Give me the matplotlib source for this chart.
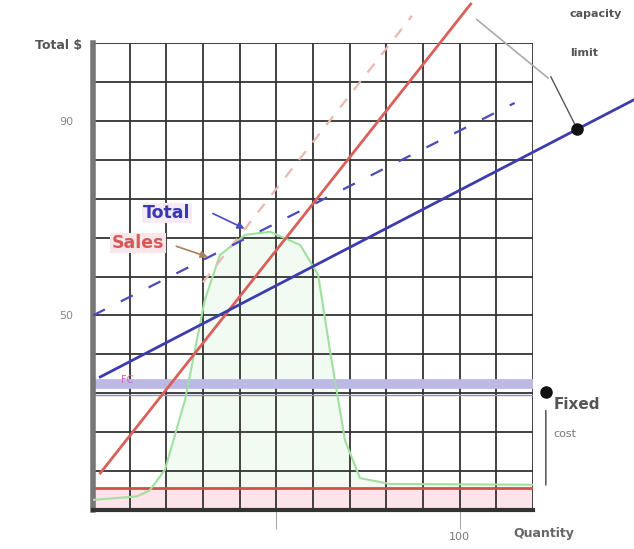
import numpy as np
import matplotlib
matplotlib.use("Agg")
import matplotlib.pyplot as plt

# break-even chart values (quantity vs total $)
revenue_x = [2, 103]
revenue_y = [9.5, 130]
revenue_alt_x = [30, 87]
revenue_alt_y = [58.5, 127]
cost_x = [2, 147.5]
cost_y = [34.2, 105.4]
cost_alt_x = [0, 115]
cost_alt_y = [50, 104.6]
fixed_cost = 32.5
fixed_low = 29.6
floor_cost = 5.7
profit_x = [0, 12, 15.5, 19.6, 25.1, 30.5, 34.6, 41.5, 48.3, 56.5, 61.4, 64.6, 68.7, 72.8, 81, 120]
profit_y = [2.6, 3.5, 5.1, 10.3, 28.3, 54, 65.5, 70.7, 71.5, 68.1, 60.4, 41.1, 18, 8.2, 6.7, 6.5]
capacity_pt = (132, 98)
fixed_pt = (123.5, 30.3)

x_ticks = [50, 100]
x_tick_labels = ["", "100"]
y_ticks = [50, 100]
y_tick_labels = ["50", "90"]

fig = plt.figure(figsize=(6.34, 5.49), dpi=100)
ax = fig.add_axes([0.1467, 0.0710, 0.694, 0.8507])
ax.set_xlim(0, 120)
ax.set_ylim(0, 120)

# grid
for v in np.arange(10, 121, 10):
    ax.axvline(v, color="#333333", lw=1.3, zorder=1)
    ax.axhline(v, color="#333333", lw=1.3, zorder=1)

# shaded bands
ax.axhspan(0, floor_cost, color="#fde3ea", zorder=0)
py = np.array(profit_y)
ax.fill_between(profit_x, floor_cost, py, where=py > floor_cost, color="#f1fbf1", zorder=0)
ax.axhline(floor_cost, color="#d05050", lw=2, zorder=2)
ax.axhline(fixed_cost, color="#bcb9e4", lw=7, zorder=2)
ax.axhline(fixed_low, color="#958cca", lw=1, zorder=2)

# lines
ax.plot(profit_x, profit_y, color="#a0e0a0", lw=1.5, zorder=3)
ax.plot(revenue_x, revenue_y, color="#d9605a", lw=2, zorder=4, clip_on=False)
ax.plot(revenue_alt_x, revenue_alt_y, color="#ebb8b0", lw=1.6, ls=(0, (5, 5)), zorder=4, clip_on=False)
ax.plot(cost_x, cost_y, color="#3c3cae", lw=2, zorder=4, clip_on=False)
ax.plot(cost_alt_x, cost_alt_y, color="#4a4ab8", lw=1.6, ls=(0, (6, 8)), zorder=4, clip_on=False)

# labels on lines
ax.text(20.2, 76.3, "Total", color="#3a3ab0", fontsize=12.5, fontweight="bold",
        ha="center", va="center", zorder=5,
        bbox=dict(facecolor="#f6eaf6", edgecolor="none", pad=1))
ax.annotate("", xy=(42, 72), xytext=(32, 76.5),
            arrowprops=dict(arrowstyle="-|>", color="#4a4ab8", lw=1.2), zorder=5)
ax.text(12.3, 68.6, "Sales", color="#d85858", fontsize=12.5, fontweight="bold",
        ha="center", va="center", zorder=5,
        bbox=dict(facecolor="#f8e6ea", edgecolor="none", pad=1))
ax.annotate("", xy=(32, 64.8), xytext=(22, 68),
            arrowprops=dict(arrowstyle="-|>", color="#a88060", lw=1.2), zorder=5)
ax.text(9.3, 33.4, "FC", color="#d060d0", fontsize=7, ha="center", va="center", zorder=5)

# right side annotations
ax.plot(*fixed_pt, "o", color="#111111", ms=8, clip_on=False, zorder=6)
ax.annotate("", xy=(fixed_pt[0], floor_cost), xytext=(fixed_pt[0], fixed_pt[1] - 4),
            arrowprops=dict(arrowstyle="-", color="#444444", lw=1), annotation_clip=False)
ax.text(125.5, 27, "Fixed", color="#555555", fontsize=11, fontweight="bold",
        ha="left", va="center", clip_on=False)
ax.text(125.5, 19.5, "cost", color="#777777", fontsize=8, ha="left", va="center", clip_on=False)

ax.plot(*capacity_pt, "o", color="#111111", ms=8, clip_on=False, zorder=6)
ax.annotate("", xy=capacity_pt, xytext=(124.5, 112),
            arrowprops=dict(arrowstyle="-", color="#555555", lw=1), annotation_clip=False)
ax.plot([104.7, 124.1], [126, 111], color="#aaaaaa", lw=1.2, clip_on=False)
ax.text(137, 127.5, "capacity", color="#555555", fontsize=8, fontweight="bold",
        ha="center", va="center", clip_on=False)
ax.text(134, 117.5, "limit", color="#555555", fontsize=8, fontweight="bold",
        ha="center", va="center", clip_on=False)

# axes styling
for side in ["top", "right"]:
    ax.spines[side].set_visible(False)
ax.spines["left"].set_color("#777777")
ax.spines["left"].set_linewidth(4)
ax.spines["bottom"].set_color("#333333")
ax.spines["bottom"].set_linewidth(3)
ax.set_xticks(x_ticks)
ax.set_xticklabels(x_tick_labels, color="#777777", fontsize=8)
ax.set_yticks(y_ticks)
ax.set_yticklabels(y_tick_labels, color="#888888", fontsize=8)
ax.tick_params(axis="x", length=14, color="#aaaaaa", pad=2)
ax.tick_params(axis="y", length=0, pad=14)

fig.text(0.129, 0.918, "Total $", color="#555555", fontsize=9, fontweight="bold",
         ha="right", va="center")
fig.text(0.858, 0.029, "Quantity", color="#666666", fontsize=9, fontweight="bold",
         ha="center", va="center")

fig.savefig("out.png", dpi=100)
